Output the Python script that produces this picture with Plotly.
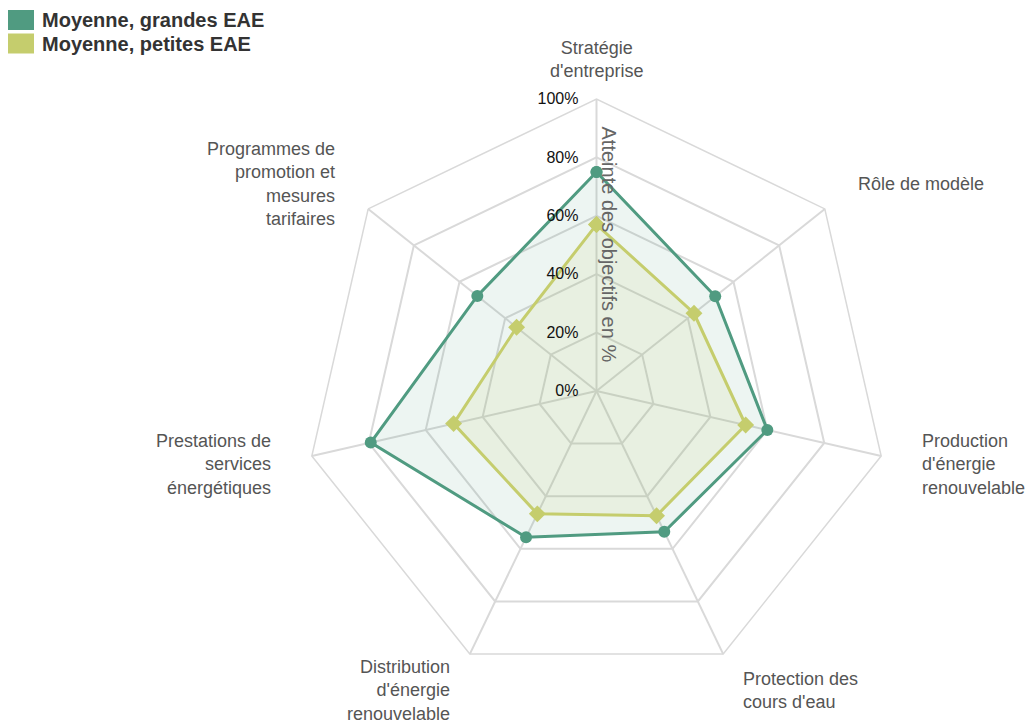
import math
import plotly.graph_objects as go

categories = ["Stratégie d'entreprise", "Rôle de modèle", "Production d'énergie renouvelable",
              "Protection des cours d'eau", "Distribution d'énergie renouvelable",
              "Prestations de services énergétiques", "Programmes de promotion et mesures tarifaires"]
tick_labels = ["Stratégie<br>d'entreprise", "Rôle de modèle", "Production<br>d'énergie<br>renouvelable",
               "Protection des<br>cours d'eau", "Distribution<br>d'énergie<br>renouvelable",
               "Prestations de<br>services<br>énergétiques", "Programmes de<br>promotion et<br>mesures<br>tarifaires"]
grandes = [75, 52, 60, 53.5, 55.6, 79.3, 52.2]
petites = [57, 42.7, 52.4, 47.4, 46.7, 50.2, 35]
series_names = ["Moyenne, grandes EAE", "Moyenne, petites EAE"]
axis_title = "Atteinte des objectifs en %"

GREEN = "#509b81"
YELLOW = "#c5cd6d"
FONT = "Liberation Sans, Arial, sans-serif"

fig = go.Figure()
fig.add_trace(go.Scatterpolar(
    r=grandes + [grandes[0]], theta=categories + [categories[0]],
    mode="lines+markers", name=series_names[0],
    line=dict(color=GREEN, width=3), marker=dict(color=GREEN, size=12, symbol="circle"),
    fill="toself", fillcolor="rgba(80,155,129,0.10)", showlegend=False))
fig.add_trace(go.Scatterpolar(
    r=petites + [petites[0]], theta=categories + [categories[0]],
    mode="lines+markers", name=series_names[1],
    line=dict(color=YELLOW, width=3), marker=dict(color=YELLOW, size=13, symbol="diamond"),
    fill="toself", fillcolor="rgba(197,205,109,0.12)", showlegend=False))

W, H = 1027, 724
cx, cy, R = 596.5, 391, 292
fig.update_layout(
    width=W, height=H, margin=dict(l=0, r=0, t=0, b=0),
    paper_bgcolor="white", font=dict(family=FONT),
    polar=dict(
        domain=dict(x=[(cx - R) / W, (cx + R) / W], y=[1 - (cy + R) / H, 1 - (cy - R) / H]),
        bgcolor="white", gridshape="linear",
        radialaxis=dict(range=[0, 100], dtick=20, ticksuffix="%", angle=90, tickangle=90,
                        side="counterclockwise", ticks="outside", ticklen=12,
                        tickcolor="rgba(0,0,0,0)",
                        showline=False, gridcolor="#d9d9d9", gridwidth=1.5,
                        tickfont=dict(size=16, color="#111", family=FONT)),
        angularaxis=dict(direction="clockwise", rotation=90, categoryorder="array",
                         categoryarray=categories, tickmode="array", tickvals=categories,
                         showticklabels=False,
                         showline=True, linecolor="#d9d9d9", linewidth=1.5,
                         gridcolor="#d9d9d9", gridwidth=1.5, ticks=""),
    ),
)

# category labels placed around the polygon (label distance beyond the outer ring)
n = len(categories)
dist = R + 40
for k, lab in enumerate(tick_labels):
    ang = math.radians(90 - k * 360 / n)
    c, s = math.cos(ang), math.sin(ang)
    anchor = "center" if abs(c) < 0.1 else ("left" if c > 0 else "right")
    fig.add_annotation(xref="paper", yref="paper",
                       x=(cx + dist * c) / W, y=1 - (cy - dist * s) / H,
                       text=lab, showarrow=False, xanchor=anchor, yanchor="middle", align=anchor,
                       font=dict(size=18, color="#555", family=FONT))

# radial axis title, reading downwards beside the axis
fig.add_annotation(xref="paper", yref="paper", x=(cx + 12) / W, y=1 - (cy - R / 2 - 1) / H,
                   text=axis_title, textangle=90, showarrow=False, xanchor="center", yanchor="middle",
                   font=dict(size=20, color="#666", family=FONT))

# legend drawn as swatches + text
for i, (name, col) in enumerate(zip(series_names, [GREEN, YELLOW])):
    y0 = 10 + i * 23.5
    fig.add_shape(type="rect", xref="paper", yref="paper",
                  x0=8 / W, x1=34 / W, y0=1 - (y0 + 20) / H, y1=1 - y0 / H,
                  fillcolor=col, line=dict(width=0))
    fig.add_annotation(xref="paper", yref="paper", x=40 / W, y=1 - (y0 + 10.5) / H,
                       text="<b>" + name + "</b>", showarrow=False, xanchor="left", yanchor="middle",
                       font=dict(size=20, color="#333", family=FONT))

fig.write_html("out.html", config={"displayModeBar": False},
               post_script="document.body.style.margin='0';document.body.style.overflow='hidden';")
